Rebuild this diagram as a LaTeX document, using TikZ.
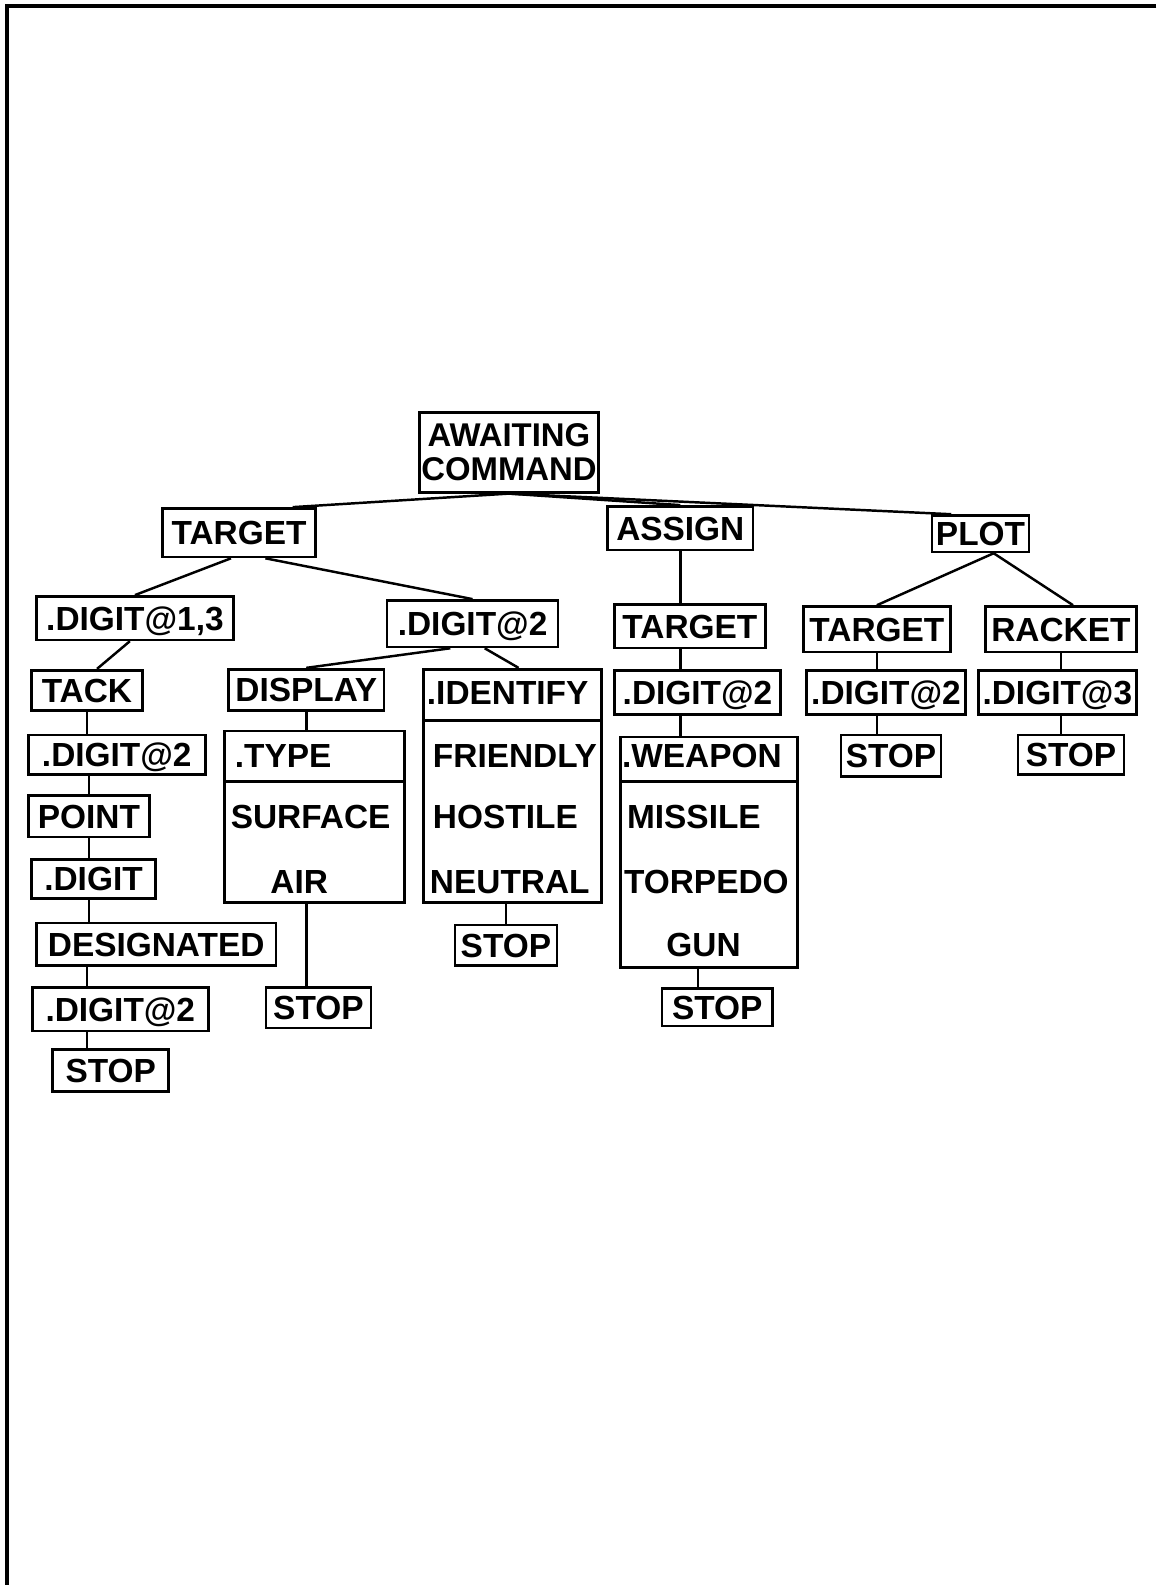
\documentclass[tikz,border=0pt]{standalone}
\usepackage{fontspec}
\setmainfont{Liberation Sans}
\usetikzlibrary{calc}

\tikzset{
  box/.style 2 args={draw, line width=1.5pt, inner sep=0pt,
    minimum width=#1*0.0202cm, minimum height=#2*0.0202cm,
    font=\fontsize{19}{19}\selectfont\bfseries},
  capline/.style={text height=13.6pt, text depth=0pt},
  item/.style={inner sep=0pt, anchor=west, capline,
    font=\fontsize{19}{19}\selectfont\bfseries},
  link/.style={line width=1.4pt},
}

\begin{document}
\begin{tikzpicture}[x=0.0202cm, y=-0.0202cm]
  \useasboundingbox (0,0) rectangle (1144,1568);
  \draw[line width=2pt] (1144,6) -- (7,6) -- (7,1568);

  % top level
  \node[box={177}{79}, align=center, font=\fontsize{18.7}{19}\selectfont\bfseries] (wait) at (503.5,447.5) {AWAITING\\COMMAND};
  \node[box={151}{48}, capline] (targ) at (236.5,527) {TARGET};
  \node[box={144}{43}, capline] (assign) at (673,522.5) {ASSIGN};
  \node[box={96}{36}, capline] (plot) at (970,528) {PLOT};

  % TARGET branch
  \node[box={195}{43}, capline] (dga) at (133.5,611.5) {.DIGIT@1,3};
  \node[box={169}{46}, capline] (dgb) at (467.5,617) {.DIGIT@2};
  \node[box={110}{40}, capline] (tack) at (86,683) {TACK};
  \node[box={175}{39}, capline] (tdg) at (115.5,746.5) {.DIGIT@2};
  \node[box={120}{41}, capline] (point) at (88,807.5) {POINT};
  \node[box={123}{39}, capline] (digit) at (92.5,869.5) {.DIGIT};
  \node[box={237}{42}, capline] (desig) at (154.5,934) {DESIGNATED};
  \node[box={174}{43}, capline] (ddg) at (119,998.5) {.DIGIT@2};
  \node[box={115}{42}, capline] (dstop) at (109.5,1059) {STOP};

  \node[box={154}{41}, capline] (display) at (303,682.5) {DISPLAY};
  \node[box={178}{50}] (thead) at (311,748) {};
  \node[box={178}{120}] (tbody) at (311,833) {};
  \node[item] (ttype) at (232,747) {.TYPE};
  \node[item] (tsurf) at (228,808) {SURFACE};
  \node[item, anchor=center] (tair) at (296,872) {AIR};
  \node[box={104}{40}, capline] (tstop) at (315,997) {STOP};

  \node[box={176}{51}] (ihead) at (507,687.5) {};
  \node[box={176}{180}] (ibody) at (507,803) {};
  \node[item] (iident) at (422,685) {.IDENTIFY};
  \node[item] (ifriend) at (428,747) {FRIENDLY};
  \node[item] (ihost) at (428,808) {HOSTILE};
  \node[item] (ineut) at (425,872) {NEUTRAL};
  \node[box={101}{40}, capline] (istop) at (500.5,935) {STOP};

  % ASSIGN branch
  \node[box={149}{43}, capline] (atarg) at (682.5,619.5) {TARGET};
  \node[box={164}{44}, capline] (adg) at (690,685) {.DIGIT@2};
  \node[box={175}{44}] (whead) at (701.5,751) {};
  \node[box={175}{184}] (wbody) at (701.5,865) {};
  \node[item] (wweap) at (615,747) {.WEAPON};
  \node[item] (wmiss) at (620,808) {MISSILE};
  \node[item] (wtorp) at (617,872) {TORPEDO};
  \node[item, anchor=center] (wgun) at (696,934) {GUN};
  \node[box={109}{37}, capline] (wstop) at (709.5,996.5) {STOP};

  % PLOT branch
  \node[box={145}{45}, capline] (ptarg) at (867.5,622.5) {TARGET};
  \node[box={157}{44}, capline] (pdg) at (876.5,685) {.DIGIT@2};
  \node[box={99}{41}, capline] (pstop) at (881.5,747.5) {STOP};
  \node[box={149}{45}, capline] (racket) at (1049.5,622.5) {RACKET};
  \node[box={156}{44}, capline] (rdg) at (1046,685) {.DIGIT@3};
  \node[box={105}{39}, capline] (rstop) at (1059.5,746.5) {STOP};

  % connectors
  \draw[link] (wait.south) -- ($(targ.north)+(53,0)$);
  \draw[link] (wait.south) -- (assign.north);
  \draw[link] (wait.south) -- ($(plot.north)+(-29,0)$);

  \draw[link] ($(targ.south)+(-8,0)$) -- (dga.north);
  \draw[link] ($(targ.south)+(26,0)$) -- (dgb.north);
  \draw[link] ($(dga.south)+(-5,0)$) -- ($(tack.north)+(10,0)$);
  \draw[link] (tack.south) -- (tdg.north -| tack.south);
  \draw[link] (tdg.south -| point.north) -- (point.north);
  \draw[link] (point.south) -- (digit.north -| point.south);
  \draw[link] (digit.south -| point.south) -- (desig.north -| point.south);
  \draw[link] (desig.south -| tack.south) -- (ddg.north -| tack.south);
  \draw[link] (ddg.south -| tack.south) -- (dstop.north -| tack.south);

  \draw[link] ($(dgb.south)+(-22,0)$) -- (display.north);
  \draw[link] ($(dgb.south)+(12,0)$) -- ($(ihead.north)+(6,0)$);
  \draw[link] (display.south) -- (thead.north -| display.south);
  \draw[link] (tbody.south -| display.south) -- (tstop.north -| display.south);
  \draw[link] (ibody.south -| istop.north) -- (istop.north);

  \draw[link] (assign.south) -- (atarg.north -| assign.south);
  \draw[link] (atarg.south -| assign.south) -- (adg.north -| assign.south);
  \draw[link] (adg.south -| assign.south) -- (whead.north -| assign.south);
  \draw[link] ($(wstop.north)+(-19,0)$) coordinate (w) -- (w |- wbody.south);

  \draw[link] ($(plot.south)+(13,0)$) -- (ptarg.north);
  \draw[link] ($(plot.south)+(13,0)$) -- ($(racket.north)+(12,0)$);
  \draw[link] (ptarg.south) -- (pdg.north -| ptarg.south);
  \draw[link] (pdg.south -| ptarg.south) -- (pstop.north -| ptarg.south);
  \draw[link] (racket.south) -- (rdg.north -| racket.south);
  \draw[link] (rdg.south -| racket.south) -- (rstop.north -| racket.south);
\end{tikzpicture}
\end{document}
